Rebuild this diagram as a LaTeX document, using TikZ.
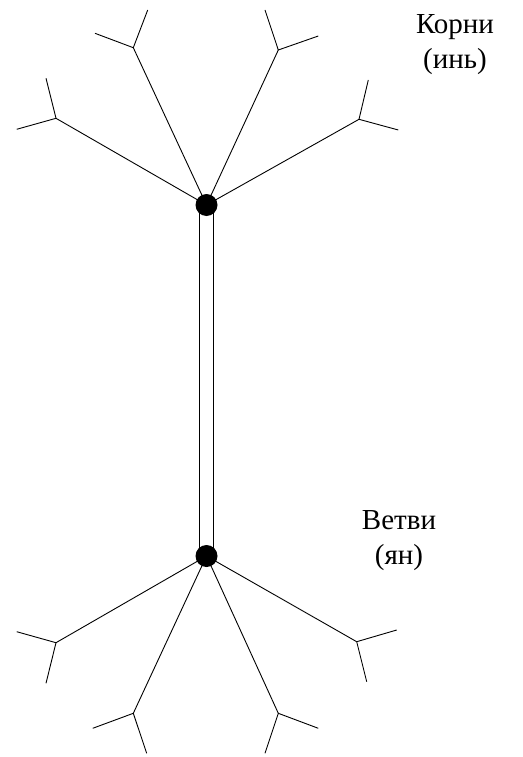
\documentclass[tikz,border=0pt]{standalone}
\usepackage{fontspec}
\setmainfont{Liberation Serif}
\begin{document}
\begin{tikzpicture}[x=1pt,y=-1pt,
  ln/.style={line width=0.9pt},
  hub/.style={circle,fill=black,inner sep=0pt,minimum size=22pt},
  lab/.style={font=\fontsize{29}{35}\selectfont,align=center,inner sep=0pt}]
\useasboundingbox[fill=white] (0,0) rectangle (522,757);
% hub centres
\coordinate (T) at (206.5,205);
\coordinate (B) at (206.5,556);
% top branch ends and twigs
\coordinate (t1) at (56,118.3);  \coordinate (t1a) at (16.7,129.3); \coordinate (t1b) at (46,78.3);
\coordinate (t2) at (133.3,47.7); \coordinate (t2a) at (95,33.3);   \coordinate (t2b) at (147.7,10);
\coordinate (t3) at (278.3,50);  \coordinate (t3a) at (265,10);     \coordinate (t3b) at (318.3,36);
\coordinate (t4) at (359,119.3); \coordinate (t4a) at (368.3,80);   \coordinate (t4b) at (398.3,130);
% bottom branch ends and twigs
\coordinate (b1) at (56,642.7);  \coordinate (b1a) at (16.7,631.7); \coordinate (b1b) at (46,683.3);
\coordinate (b2) at (133.3,713.3); \coordinate (b2a) at (92.7,728.3); \coordinate (b2b) at (146.7,753.3);
\coordinate (b3) at (278.3,713.3); \coordinate (b3a) at (318.3,728.3); \coordinate (b3b) at (265,753.3);
\coordinate (b4) at (356.7,641.7); \coordinate (b4a) at (396.7,630); \coordinate (b4b) at (366.7,681.7);
% pipe
\draw[ln] ([xshift=-7pt]T) -- ([xshift=-7pt]B);
\draw[ln] ([xshift=7pt]T) -- ([xshift=7pt]B);
% branches
\foreach \e in {t1,t2,t3,t4} {
  \draw[ln] (T) -- (\e);
  \draw[ln] (\e a) -- (\e) -- (\e b);
}
\foreach \e in {b1,b2,b3,b4} {
  \draw[ln] (B) -- (\e);
  \draw[ln] (\e a) -- (\e) -- (\e b);
}
% hubs
\node[hub] (top) at (T) {};
\node[hub] (bot) at (B) {};
% labels
\node[lab] (roots) at (455,45) {Корни\\(инь)};
\node[lab] (branches) at (399,541) {Ветви\\(ян)};
\end{tikzpicture}
\end{document}
